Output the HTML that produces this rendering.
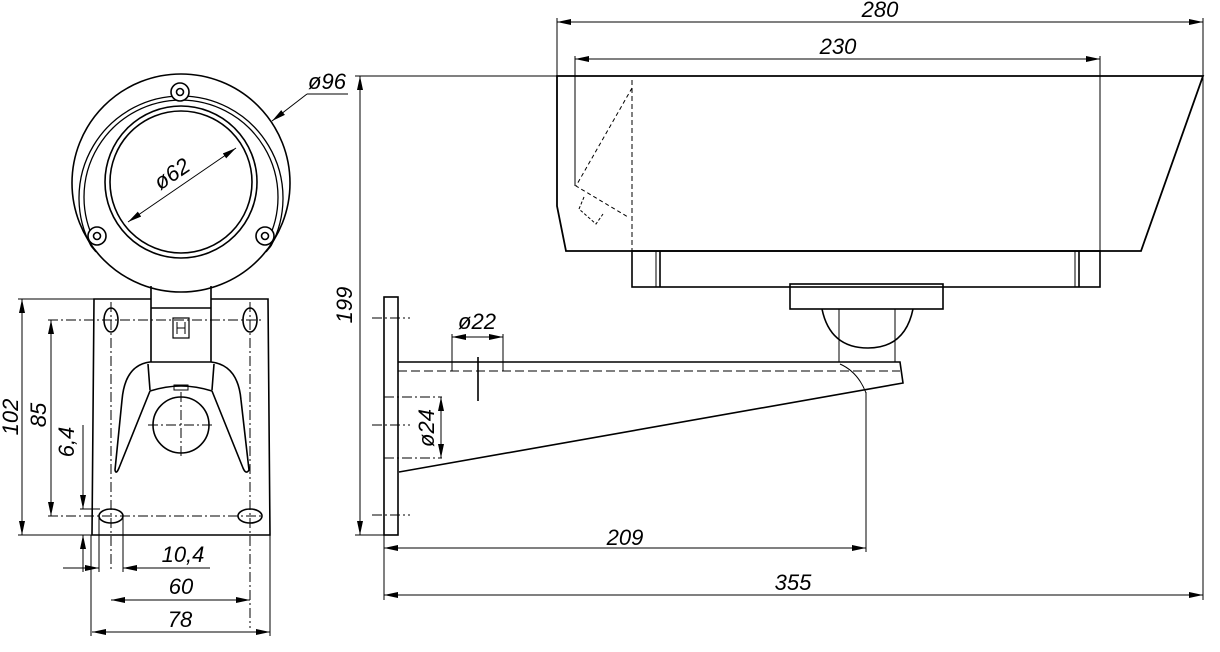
<!DOCTYPE html>
<html><head><meta charset="utf-8"><style>
html,body{margin:0;padding:0;background:#fff}
svg{display:block}
text{font-family:"Liberation Sans",sans-serif;font-style:italic;font-size:22px;fill:#000}
</style></head><body>
<svg width="1220" height="652" viewBox="0 0 1220 652" xmlns="http://www.w3.org/2000/svg">
<defs>
<marker id="a" viewBox="0 0 14 6" refX="14" refY="3" markerWidth="14" markerHeight="6" orient="auto-start-reverse" markerUnits="userSpaceOnUse"><path d="M0,0L14,3L0,6z" fill="#000"/></marker>
</defs>
<g fill="none" stroke="#000" stroke-width="1.6">
<!-- Housing -->
<path d="M557,76 L1203,76 L1141,251 L566,251 L557,206 Z" stroke-width="1.8"/>
<line x1="632" y1="80" x2="632" y2="251" stroke-dasharray="5,3" stroke-width="1"/>
<path d="M632,88 L576,186 L628,217" stroke-dasharray="4,3" stroke-width="1"/>
<path d="M584,197 L579,209 L596,224 L603,214" stroke-dasharray="3,2" stroke-width="1"/>
<rect x="632" y="251" width="468" height="36"/>
<line x1="656" y1="251" x2="656" y2="287" stroke-width="1"/><line x1="660" y1="251" x2="660" y2="287"/>
<line x1="1075" y1="251" x2="1075" y2="287" stroke-width="1"/><line x1="1079" y1="251" x2="1079" y2="287"/>
<!-- Mount -->
<rect x="790" y="284" width="153" height="25"/>
<path d="M822,309 Q830,348 868,348 Q905,348 913,309"/>
<line x1="839" y1="309" x2="839" y2="362" stroke-width="1"/><line x1="895" y1="309" x2="895" y2="362" stroke-width="1"/>
<path d="M398,362 L838,362 L900,362 L903,383 L399,472"/>
<line x1="398" y1="371" x2="900" y2="371" stroke-dasharray="9,4" stroke-width="1"/>
<path d="M840,364 Q858,372 866,393" stroke-width="1"/>
<rect x="384" y="297" width="14" height="238"/>
<g stroke-width="1" stroke-dasharray="10,3,2,3">
<line x1="372" y1="318" x2="410" y2="318"/><line x1="372" y1="425" x2="410" y2="425"/><line x1="372" y1="515" x2="410" y2="515"/>
<line x1="384" y1="397" x2="442" y2="397"/><line x1="384" y1="458" x2="442" y2="458"/>
</g>
<line x1="478" y1="357" x2="478" y2="401"/>
<!-- Left view -->
<circle cx="181" cy="183" r="109"/>
<path d="M91,246 A102,102 0 1 1 271,246" stroke-width="1.3"/>
<path d="M95,242 A97,97 0 1 1 267,242" stroke-width="1.3"/>
<path d="M91,246 L96,252 M271,246 L266,252" stroke-width="1.3"/>
<circle cx="181" cy="182" r="76"/><circle cx="181" cy="182" r="71"/>
<g fill="#fff"><circle cx="180" cy="92" r="9"/><circle cx="97" cy="236" r="9"/><circle cx="265" cy="236" r="9"/></g>
<circle cx="180" cy="92" r="3.5"/><circle cx="97" cy="236" r="3.5"/><circle cx="265" cy="236" r="3.5"/>
<path d="M151,286 L151,362 M211,286 L211,362"/>
<line x1="151" y1="308" x2="211" y2="308"/>
<rect x="173" y="318" width="16" height="20" stroke-width="1.2"/>
<path d="M177,322 V334 M185,322 V334 M177,328 H185" stroke-width="1"/>
<path d="M151,299 L94,299 L92,535 L270,535 L268,299 L211,299"/>
<ellipse cx="111" cy="320" rx="7" ry="12"/><ellipse cx="250" cy="320" rx="7" ry="12"/>
<ellipse cx="111" cy="516" rx="12" ry="7"/><ellipse cx="250" cy="516" rx="12" ry="7"/>
<path d="M115,470 L122,400 Q125,365 150,362 L211,362 Q238,365 241,400 L249,470 Q246,475 243,468 L212,391 Q196,386 181,386 Q166,386 150,391 L119,468 Q116,475 115,470 Z"/>
<path d="M148,364 L150,390 M214,364 L212,390"/>
<rect x="174" y="385" width="14" height="5" stroke-width="1"/>
<circle cx="181" cy="425" r="28"/>
<g stroke-width="1" stroke-dasharray="10,3,2,3">
<line x1="48" y1="320" x2="262" y2="320"/><line x1="48" y1="516" x2="264" y2="516"/>
<line x1="111" y1="302" x2="111" y2="572"/><line x1="250" y1="302" x2="250" y2="628"/>
<line x1="181" y1="392" x2="181" y2="458"/><line x1="148" y1="425" x2="214" y2="425"/>
</g>
</g>
<!-- Dimensions -->
<g fill="none" stroke="#000" stroke-width="1">
<line x1="557" y1="22" x2="1203" y2="22" marker-start="url(#a)" marker-end="url(#a)"/>
<line x1="557" y1="18" x2="557" y2="206"/><line x1="1203" y1="18" x2="1203" y2="600"/>
<line x1="575" y1="59" x2="1100" y2="59" marker-start="url(#a)" marker-end="url(#a)"/>
<line x1="575" y1="56" x2="575" y2="186"/><line x1="1100" y1="56" x2="1100" y2="287"/>
<line x1="355" y1="76" x2="557" y2="76"/>
<line x1="360" y1="76" x2="360" y2="535" marker-start="url(#a)" marker-end="url(#a)"/>
<line x1="355" y1="535" x2="384" y2="535"/>
<line x1="452" y1="334" x2="452" y2="371"/><line x1="503" y1="334" x2="503" y2="371"/>
<line x1="452" y1="337" x2="503" y2="337" marker-start="url(#a)" marker-end="url(#a)"/>
<line x1="441" y1="397" x2="441" y2="458" marker-start="url(#a)" marker-end="url(#a)"/>
<line x1="866" y1="392" x2="866" y2="552"/>
<line x1="384" y1="535" x2="384" y2="600"/>
<line x1="384" y1="548" x2="866" y2="548" marker-start="url(#a)" marker-end="url(#a)"/>
<line x1="384" y1="595" x2="1203" y2="595" marker-start="url(#a)" marker-end="url(#a)"/>
<line x1="272" y1="121" x2="307" y2="94" marker-start="url(#a)"/><line x1="307" y1="94" x2="348" y2="94"/>
<line x1="128" y1="222" x2="236" y2="148" marker-start="url(#a)" marker-end="url(#a)"/>
<line x1="18" y1="299" x2="94" y2="299"/><line x1="18" y1="535" x2="92" y2="535"/>
<line x1="22" y1="299" x2="22" y2="535" marker-start="url(#a)" marker-end="url(#a)"/>
<line x1="51" y1="320" x2="51" y2="516" marker-start="url(#a)" marker-end="url(#a)"/>
<line x1="80" y1="509" x2="100" y2="509"/>
<line x1="83" y1="425" x2="83" y2="509" marker-end="url(#a)"/>
<line x1="83" y1="572" x2="83" y2="535" marker-end="url(#a)"/>
<line x1="91" y1="535" x2="91" y2="636"/><line x1="270" y1="535" x2="270" y2="636"/>
<line x1="99" y1="516" x2="99" y2="572"/><line x1="123" y1="516" x2="123" y2="572"/>
<line x1="63" y1="568" x2="99" y2="568" marker-end="url(#a)"/>
<line x1="210" y1="568" x2="123" y2="568" marker-end="url(#a)"/>
<line x1="111" y1="600" x2="250" y2="600" marker-start="url(#a)" marker-end="url(#a)"/>
<line x1="92" y1="632" x2="270" y2="632" marker-start="url(#a)" marker-end="url(#a)"/>
</g>
<text x="880" y="17" text-anchor="middle">280</text>
<text x="838" y="54" text-anchor="middle">230</text>
<text x="477" y="329" text-anchor="middle">ø22</text>
<text x="625" y="545" text-anchor="middle">209</text>
<text x="793" y="590" text-anchor="middle">355</text>
<text x="327" y="89" text-anchor="middle">ø96</text>
<text x="183" y="562" text-anchor="middle">10,4</text>
<text x="181" y="594" text-anchor="middle">60</text>
<text x="180" y="627" text-anchor="middle">78</text>
<text transform="translate(352,305) rotate(-90)" text-anchor="middle">199</text>
<text transform="translate(434,428) rotate(-90)" text-anchor="middle">ø24</text>
<text transform="translate(18,417) rotate(-90)" text-anchor="middle">102</text>
<text transform="translate(46,415) rotate(-90)" text-anchor="middle">85</text>
<text transform="translate(74,442) rotate(-90)" text-anchor="middle">6,4</text>
<text transform="translate(176,180) rotate(-34)" text-anchor="middle">ø62</text>
</svg>
</body></html>
